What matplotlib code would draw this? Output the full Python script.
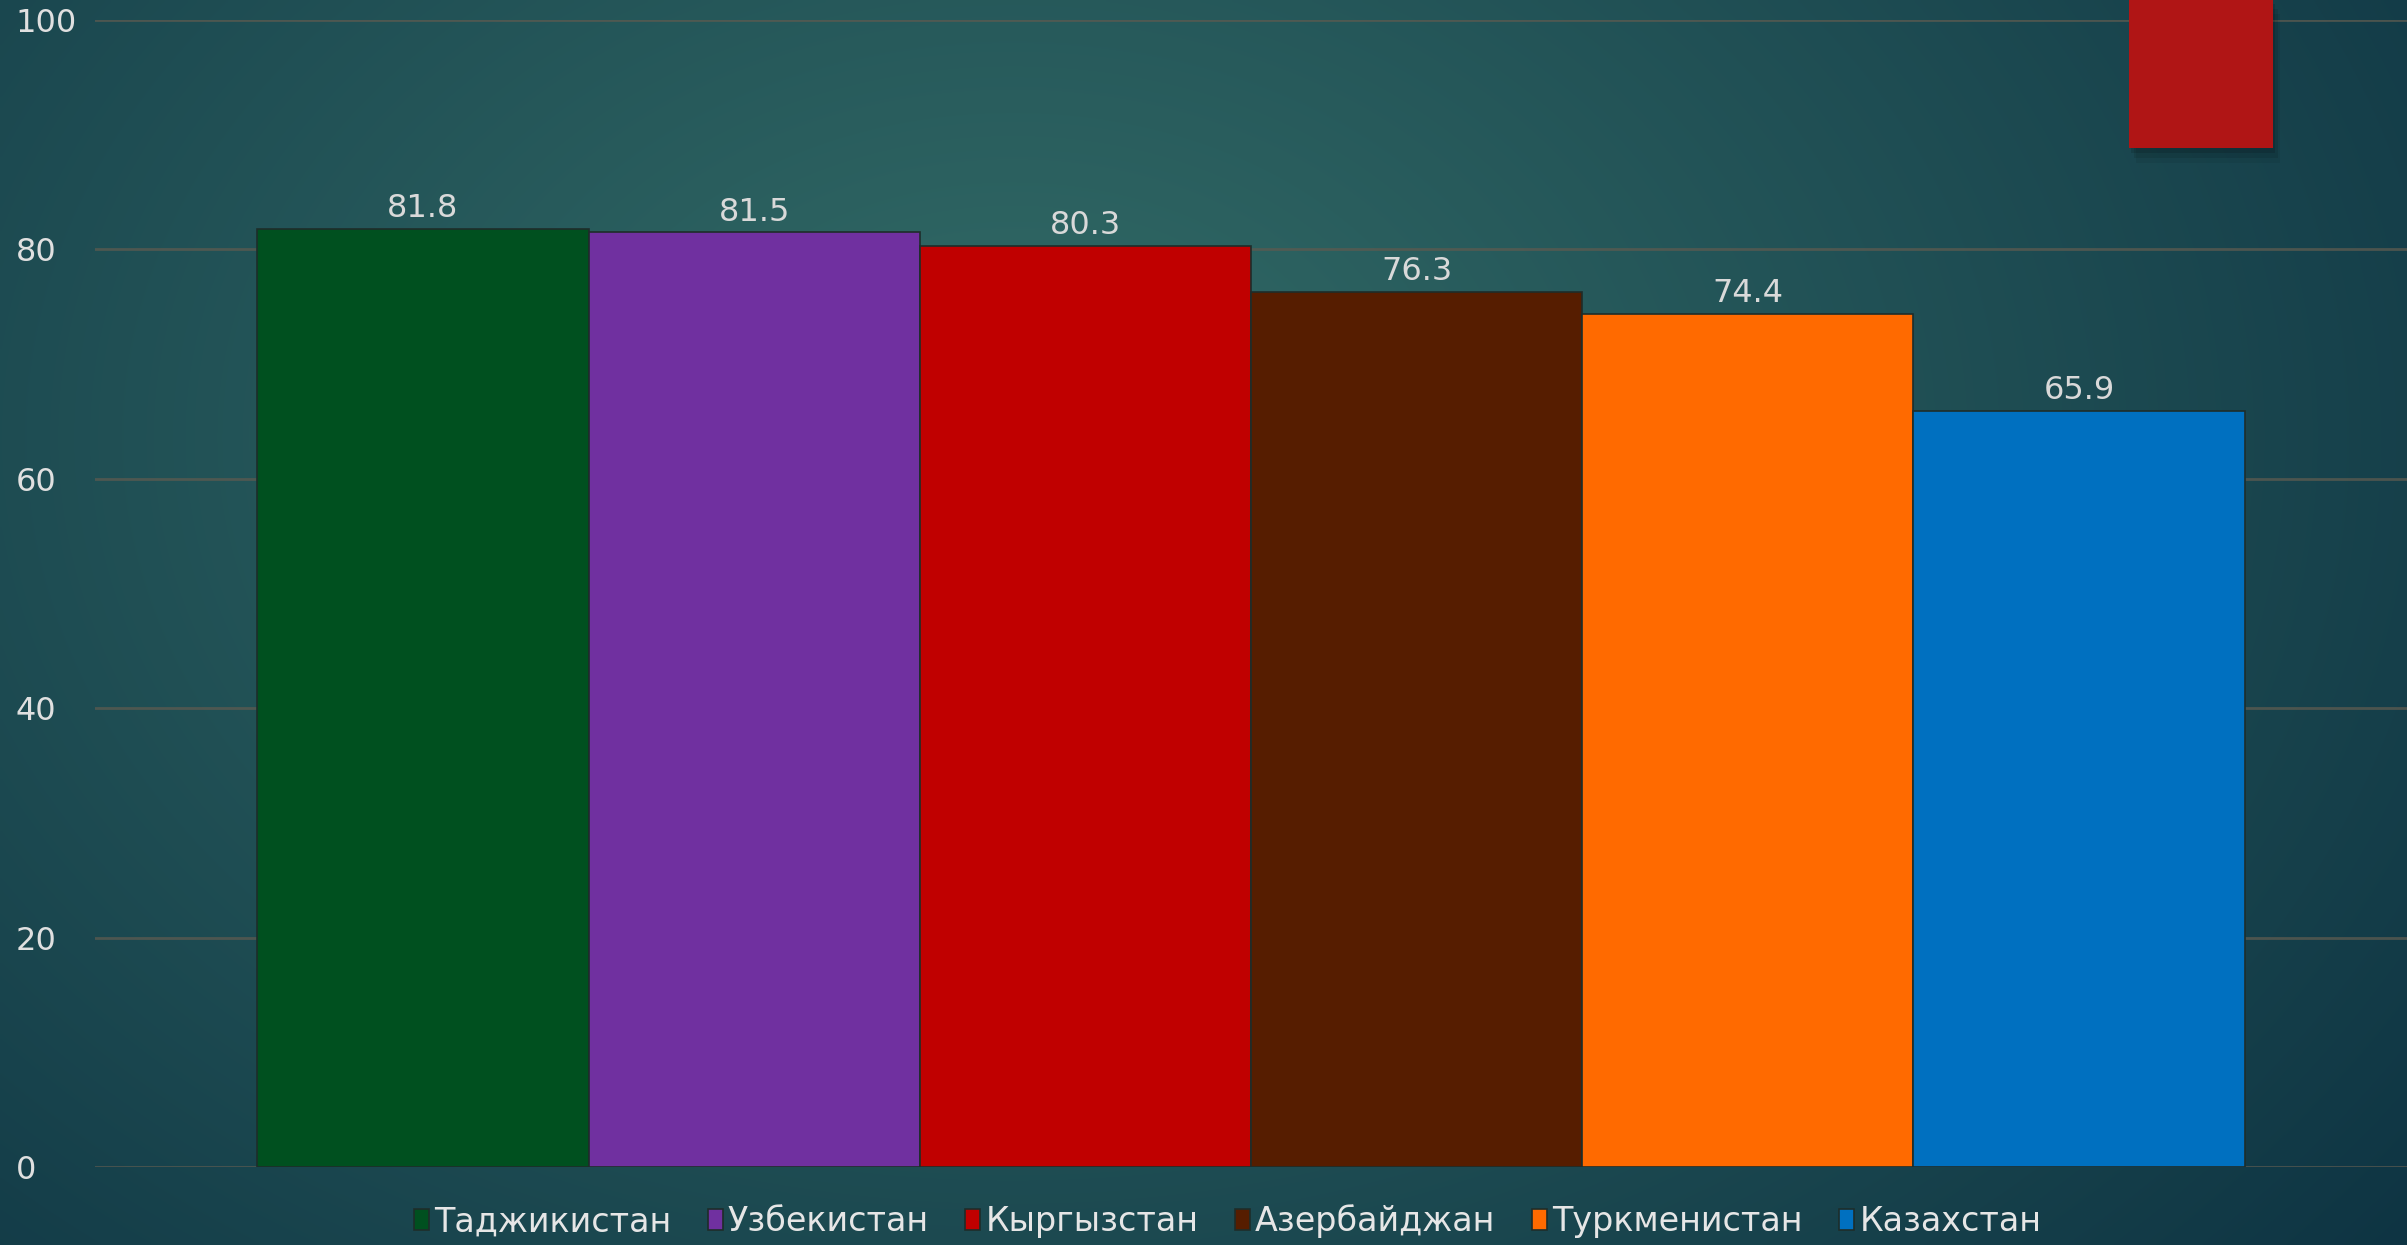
import numpy as np
import matplotlib
matplotlib.use("Agg")
import matplotlib.pyplot as plt
from matplotlib.patches import Rectangle

countries = ["Таджикистан", "Узбекистан", "Кыргызстан", "Азербайджан", "Туркменистан", "Казахстан"]
values = [81.8, 81.5, 80.3, 76.3, 74.4, 65.9]
colors = ["#00501f", "#7030a0", "#c00000", "#561d00", "#ff6a00", "#0070c0"]
yticks = [0, 20, 40, 60, 80, 100]

plt.rcParams["font.family"] = ["DejaVu Sans"]

fig = plt.figure(figsize=(24.07, 12.45), dpi=100)

# background: soft radial teal gradient
bg = fig.add_axes([0, 0, 1, 1], zorder=-10)
h, w = 300, 580
yy, xx = np.mgrid[0:h, 0:w]
cx, cy = 0.42 * w, 0.35 * h
d = np.sqrt(((xx - cx) / (0.78 * w)) ** 2 + ((yy - cy) / (1.1 * h)) ** 2)
d = np.clip(d, 0, 1)
inner = np.array([0x33, 0x6c, 0x67]) / 255
outer = np.array([0x0c, 0x31, 0x41]) / 255
grad = inner[None, None, :] * (1 - d[..., None]) + outer[None, None, :] * d[..., None]
bg.imshow(grad, aspect="auto", extent=[0, 1, 0, 1], interpolation="bilinear")
bg.set_xlim(0, 1)
bg.set_ylim(0, 1)
bg.axis("off")

ax = fig.add_axes([0.0395, 0.0627, 0.9605, 0.9213])
ax.set_facecolor("none")

n = len(values)
xs = np.arange(n) - (n - 1) / 2
bars = []
for x, v, c, name in zip(xs, values, colors, countries):
    b = ax.bar(x, v, width=1.0, color=c, edgecolor="#1e2d2a", linewidth=1.2, label=name, zorder=3)
    bars.append(b)
    ax.text(x, v + 0.4, f"{v:.1f}", ha="center", va="bottom", fontsize=23, color="#d9d9d9", zorder=4)

ax.set_xlim(-3.49, 3.49)
ax.set_ylim(0, 100)
ax.set_yticks(yticks)
ax.set_xticks([])
ax.grid(axis="y", color="#5a5a50", linewidth=2, alpha=0.8, zorder=0)
ax.tick_params(axis="y", length=0, pad=57, labelsize=23, labelcolor="#e0e0e0")
for lbl in ax.get_yticklabels():
    lbl.set_horizontalalignment("left")
for s in ax.spines.values():
    s.set_visible(False)

leg = fig.legend(handles=[b[0] for b in bars], labels=countries, loc="center",
                 bbox_to_anchor=(0.51, 0.019), ncol=6, frameon=False,
                 fontsize=24, handlelength=0.45, handleheight=0.6, handletextpad=0.15,
                 columnspacing=1.1, labelcolor="#e6e6e6")

# decorative red tab at top right, with a soft shadow
for i, a in enumerate([0.12, 0.09, 0.06]):
    fig.patches.append(Rectangle((0.8845 + 0.001 * (i + 1), 0.881 - 0.004 * (i + 1)), 0.0598, 0.12,
                                 transform=fig.transFigure, facecolor="black", alpha=a,
                                 edgecolor="none", zorder=5))
fig.patches.append(Rectangle((0.8845, 0.881), 0.0598, 0.12, transform=fig.transFigure,
                             facecolor="#b01515", edgecolor="none", zorder=6))

fig.savefig("out.png", dpi=100)
